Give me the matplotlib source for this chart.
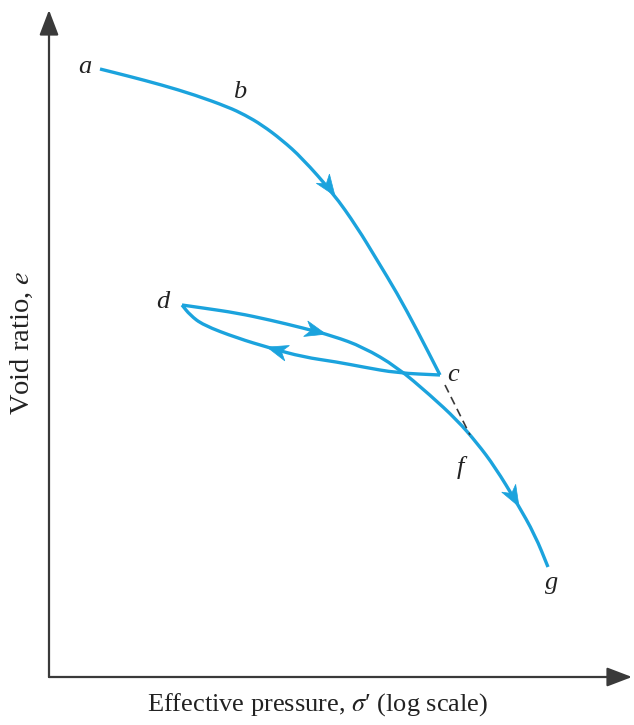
import numpy as np
import matplotlib
matplotlib.use("Agg")
import matplotlib.pyplot as plt
from matplotlib.patches import FancyArrowPatch, PathPatch, Polygon
from matplotlib.path import Path

# ---- data (arbitrary units: x = log effective pressure, y = void ratio) ----
virgin_x = [51, 79, 113, 146, 179, 196, 213, 233, 253, 284, 308, 328, 348, 368, 391]
virgin_y = [608, 601, 592, 582, 570, 562, 552, 537, 519, 484, 450, 417, 384, 347, 302]

unload_x = [391, 348, 314, 288, 254, 221, 188, 154, 141, 133]
unload_y = [302, 304, 310, 315, 320, 329, 339, 352, 362, 372]

reload_x = [133, 154, 188, 221, 254, 284, 314, 348, 381, 408, 428, 446, 468, 486, 499]
reload_y = [372, 369, 364, 357, 349, 341, 330, 310, 282, 257, 234, 210, 174, 142, 110]

dashed_x = [396, 421]
dashed_y = [292, 242]

# arrow tip positions (x value along each branch)
arrow_virgin_x = [286]
arrow_unload_x = [218]
arrow_reload_x = [277, 470]

point_labels = ["a", "b", "c", "d", "f", "g"]
label_x = [36, 191, 404, 114, 411, 503]
label_y = [610, 585, 302, 375, 209, 94]

xlabel = "Effective pressure, $\\sigma$\u2032 (log scale)"
ylabel = "Void ratio, $e$"

BLUE = "#1ba3dd"
DARK = "#3a3a3a"
TEXT = "#222222"

plt.rcParams["font.family"] = ["Liberation Serif", "DejaVu Serif"]
plt.rcParams["mathtext.fontset"] = "stix"

W, H = 634, 725
fig = plt.figure(figsize=(W / 100, H / 100), dpi=100)
ax = fig.add_axes([49 / W, (725 - 677) / H, (632 - 49) / W, (677 - 10) / H])
ax.set_xlim(0, 583)
ax.set_ylim(0, 667)
ax.axis("off")

# axes with arrowheads
for end in [(0, 1), (1, 0)]:
    ax.add_patch(FancyArrowPatch((0, 0), end, transform=ax.transAxes,
                                 arrowstyle="-|>,head_length=1.1,head_width=0.42",
                                 mutation_scale=14, color=DARK, lw=1.6,
                                 shrinkA=0, shrinkB=0, clip_on=False))


def smooth_curve(xs, ys, **kw):
    """Draw a smooth quadratic-Bezier path through midpoints of the read points."""
    P = np.column_stack([xs, ys]).astype(float)
    verts = [P[0], (P[0] + P[1]) / 2]
    codes = [Path.MOVETO, Path.LINETO]
    for i in range(1, len(P) - 1):
        verts += [P[i], (P[i] + P[i + 1]) / 2]
        codes += [Path.CURVE3, Path.CURVE3]
    verts.append(P[-1])
    codes.append(Path.LINETO)
    ax.add_patch(PathPatch(Path(verts, codes), fill=False, **kw))


for xs, ys in [(virgin_x, virgin_y), (unload_x, unload_y), (reload_x, reload_y)]:
    smooth_curve(xs, ys, edgecolor=BLUE, lw=2.4, capstyle="butt", joinstyle="round")

ax.plot(dashed_x, dashed_y, color=DARK, lw=1.2, ls=(0, (5, 3)))


def arrow_at(xs, ys, xt, L=21.0, w=8.0, notch=6.0):
    xs = np.asarray(xs, float)
    ys = np.asarray(ys, float)
    for i in range(len(xs) - 1):
        lo, hi = sorted((xs[i], xs[i + 1]))
        if lo <= xt <= hi:
            break
    t = (xt - xs[i]) / (xs[i + 1] - xs[i])
    tip = np.array([xt, ys[i] + t * (ys[i + 1] - ys[i])])
    p0 = ax.transData.transform([xs[i], ys[i]])
    p1 = ax.transData.transform([xs[i + 1], ys[i + 1]])
    d = (p1 - p0) / np.hypot(*(p1 - p0))
    n = np.array([-d[1], d[0]])
    T = ax.transData.transform(tip)
    pts = [T, T - L * d + w * n, T - (L - notch) * d, T - L * d - w * n]
    inv = ax.transData.inverted()
    ax.add_patch(Polygon(inv.transform(np.array(pts)), closed=True,
                         facecolor=BLUE, edgecolor=BLUE, lw=0.5))


for xt in arrow_virgin_x:
    arrow_at(virgin_x, virgin_y, xt)
for xt in arrow_unload_x:
    arrow_at(unload_x, unload_y, xt)
for xt in arrow_reload_x:
    arrow_at(reload_x, reload_y, xt)

for lab, lx, ly in zip(point_labels, label_x, label_y):
    ax.text(lx, ly, lab, fontsize=19, fontstyle="italic", color=TEXT,
            ha="center", va="center")

fig.text(318 / W, 1 - 705 / H, xlabel, fontsize=19, color=TEXT,
         ha="center", va="center")
fig.text(22 / W, 1 - 343 / H, ylabel, fontsize=20.5, color=TEXT,
         ha="center", va="center", rotation=90)

fig.savefig("out.png", dpi=100, facecolor="white")
